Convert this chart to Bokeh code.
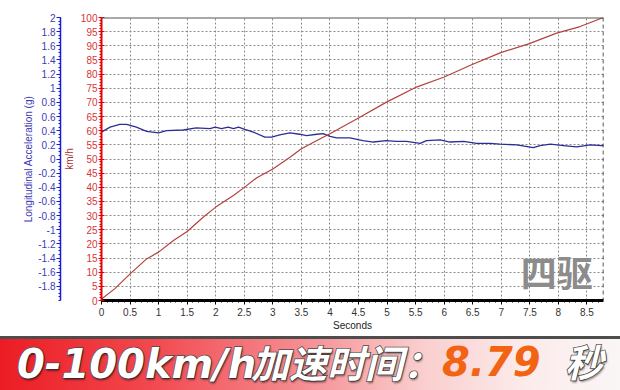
from bokeh.plotting import figure
from bokeh.models import Range1d, LinearAxis, FixedTicker, CustomJSTickFormatter, Span, Label, Div
from bokeh.layouts import column
from bokeh.embed import file_html
from bokeh.resources import INLINE

# ---------------- data ----------------
time_acc = [0, 0.15, 0.32, 0.44, 0.61, 0.79, 1.0, 1.14, 1.43, 1.66, 1.9, 1.99, 2.1, 2.22, 2.31,
            2.4, 2.51, 2.66, 2.86, 2.98, 3.12, 3.30, 3.47, 3.59, 3.77, 3.88, 4.0, 4.12, 4.35,
            4.58, 4.76, 4.99, 5.16, 5.34, 5.58, 5.69, 5.93, 6.1, 6.34, 6.57, 6.8, 6.98, 7.27,
            7.56, 7.68, 7.86, 8.09, 8.32, 8.56, 8.76, 8.79]
acc_g = [0.38, 0.45, 0.49, 0.49, 0.45, 0.39, 0.37, 0.40, 0.41, 0.44, 0.43, 0.45, 0.43, 0.45, 0.43,
         0.45, 0.42, 0.38, 0.31, 0.31, 0.34, 0.37, 0.35, 0.33, 0.35, 0.36, 0.32, 0.30, 0.30,
         0.26, 0.24, 0.26, 0.25, 0.25, 0.22, 0.26, 0.27, 0.24, 0.25, 0.22, 0.22, 0.21, 0.20,
         0.16, 0.19, 0.21, 0.19, 0.17, 0.20, 0.19, 0.19]

time_speed = [0, 0.23, 0.51, 0.79, 1.0, 1.26, 1.5, 1.78, 2.0, 2.31, 2.49, 2.72, 3.0, 3.3, 3.5,
              3.88, 4.0, 4.5, 4.99, 5.49, 5.99, 6.48, 6.98, 7.48, 7.97, 8.38, 8.79]
speed_kmh = [0.5, 4.1, 9.6, 14.7, 17.1, 21.2, 24.4, 29.4, 33.0, 37.1, 39.8, 43.4, 46.5, 50.6, 53.6,
             57.7, 58.9, 64.5, 70.1, 75.2, 78.9, 83.3, 87.5, 90.7, 94.5, 96.8, 100]

x_ticks = [0, 0.5, 1, 1.5, 2, 2.5, 3, 3.5, 4, 4.5, 5, 5.5, 6, 6.5, 7, 7.5, 8, 8.5]
speed_ticks = [0, 5, 10, 15, 20, 25, 30, 35, 40, 45, 50, 55, 60, 65, 70, 75, 80, 85, 90, 95, 100]
acc_ticks = [2, 1.8, 1.6, 1.4, 1.2, 1, 0.8, 0.6, 0.4, 0.2, 0, -0.2, -0.4, -0.6, -0.8, -1, -1.2,
             -1.4, -1.6, -1.8]

accel_time = 8.79
x_title = "Seconds"
speed_title = "km/h"
acc_title = "Longitudinal Acceleration (g)"
banner_head = "0-100km/h"
banner_cn = "加速时间："
banner_unit = "秒"
watermark = "四驱"

LABEL_FONT = "Liberation Sans"
fmt_code = "return String(parseFloat(tick.toFixed(2)))"

# ---------------- main chart ----------------
p = figure(width=620, height=336, x_range=Range1d(0, accel_time), y_range=Range1d(0, 100),
           output_backend="svg", toolbar_location=None,
           min_border_left=101, min_border_right=17, min_border_top=17, min_border_bottom=36)
p.extra_y_ranges = {"acc": Range1d(-2, 2)}
p.outline_line_color = None
p.background_fill_color = "white"
p.border_fill_color = "white"

p.xgrid.ticker = FixedTicker(ticks=x_ticks)
p.ygrid.ticker = FixedTicker(ticks=speed_ticks)
for g in (p.xgrid[0], p.ygrid[0]):
    g.grid_line_color = "#8a8a8a"
    g.grid_line_dash = "2 2"
    g.grid_line_width = 1

# x axis
xa = p.xaxis[0]
xa.ticker = FixedTicker(ticks=x_ticks, minor_ticks=[i / 10 for i in range(0, 88)])
xa.formatter = CustomJSTickFormatter(code=fmt_code)
xa.axis_line_color = "black"
xa.axis_line_width = 3
xa.major_tick_line_color = "black"
xa.minor_tick_line_color = "black"
xa.major_tick_in = 0
xa.major_tick_out = 4
xa.minor_tick_in = 0
xa.minor_tick_out = 2
xa.major_label_standoff = 3
xa.major_label_text_font = LABEL_FONT
xa.major_label_text_font_size = "10px"
xa.major_label_text_color = "#333333"
xa.axis_label = x_title
xa.axis_label_standoff = 1
xa.axis_label_text_font = LABEL_FONT
xa.axis_label_text_font_size = "10px"
xa.axis_label_text_font_style = "normal"
xa.axis_label_text_color = "#222222"

# speed axis (inner left)
ya = p.yaxis[0]
ya.ticker = FixedTicker(ticks=speed_ticks, minor_ticks=list(range(0, 101)))
ya.axis_line_color = "#e60000"
ya.axis_line_width = 2
ya.major_tick_line_color = "#e60000"
ya.minor_tick_line_color = "#e60000"
ya.major_tick_in = 3
ya.major_tick_out = 3
ya.minor_tick_in = 0
ya.minor_tick_out = 2
ya.major_label_standoff = 1
ya.major_label_text_font = LABEL_FONT
ya.major_label_text_font_size = "10px"
ya.major_label_text_color = "#d83434"
ya.axis_label = speed_title
ya.axis_label_standoff = 3
ya.axis_label_text_font = LABEL_FONT
ya.axis_label_text_font_size = "10px"
ya.axis_label_text_font_style = "normal"
ya.axis_label_text_color = "#a83232"

# spacer between the two left axes
spacer = LinearAxis(y_range_name="acc", ticker=FixedTicker(ticks=[]), axis_line_color=None,
                    major_tick_line_color=None, minor_tick_line_color=None,
                    major_tick_in=0, major_tick_out=7, minor_tick_in=0, minor_tick_out=0,
                    major_label_standoff=0, major_label_text_font_size="0px")
p.add_layout(spacer, "left")

# acceleration axis (outer left)
aa = LinearAxis(y_range_name="acc",
                ticker=FixedTicker(ticks=acc_ticks, minor_ticks=[round(-2 + 0.05 * i, 2) for i in range(81)]),
                formatter=CustomJSTickFormatter(code=fmt_code))
aa.axis_line_color = "#1a1ad8"
aa.axis_line_width = 1.5
aa.major_tick_line_color = "#1a1ad8"
aa.minor_tick_line_color = "#1a1ad8"
aa.major_tick_in = 0
aa.major_tick_out = 4
aa.minor_tick_in = 0
aa.minor_tick_out = 2
aa.major_label_standoff = 1
aa.major_label_text_font = LABEL_FONT
aa.major_label_text_font_size = "10px"
aa.major_label_text_color = "#3c3cb4"
aa.axis_label = acc_title
aa.axis_label_standoff = 1
aa.axis_label_text_font = LABEL_FONT
aa.axis_label_text_font_size = "10px"
aa.axis_label_text_font_style = "normal"
aa.axis_label_text_color = "#3c3cb4"
p.add_layout(aa, "left")

# curves
p.line(time_acc, acc_g, y_range_name="acc", line_color="#2d2d96", line_width=1.3)
p.line(time_speed, speed_kmh, line_color="#b4413c", line_width=1.2)

# frame edges
p.add_layout(Span(location=100, dimension="width", line_color="#555555", line_width=2))
p.add_layout(Span(location=accel_time, dimension="height", line_color="#222222",
                  line_dash="4 3", line_width=1.5))

# watermark
p.add_layout(Label(x=7.97, y=10.5, text=watermark, text_align="center", text_baseline="middle",
                   text_font="Noto Sans CJK SC", text_font_style="bold", text_font_size="36px",
                   text_color="#8c8c8c"))

# ---------------- banner ----------------
stroke = ("-webkit-text-stroke:1.5px #4a4a4a;paint-order:stroke fill;"
          "text-shadow:1px 2px 2px rgba(0,0,0,0.45);")
common = "position:absolute;margin:0;padding:0;white-space:nowrap;line-height:1;font-weight:bold;font-style:italic;"
banner_html = (
    '<div style="position:relative;width:620px;height:54px;overflow:visible;box-sizing:border-box;'
    'border-top:3px solid #4d4d4d;'
    'background:linear-gradient(to right, rgb(236,28,36) 0px, rgb(241,72,78) 150px, '
    'rgb(245,140,145) 300px, rgb(250,205,205) 420px, rgb(252,234,234) 520px, rgb(250,246,246) 620px);">'
    f'<span style="{common}left:17px;top:5px;font-family:\'DejaVu Sans\';font-size:40px;color:#ffffff;{stroke}">{banner_head}</span>'
    f'<span style="{common}left:251px;top:4px;font-family:\'Noto Sans CJK SC\';font-size:38px;color:#ffffff;{stroke}">{banner_cn}</span>'
    f'<span style="{common}left:442px;top:3px;font-family:\'DejaVu Sans\';font-size:40px;color:#f26414;">{accel_time}</span>'
    f'<span style="{common}left:565px;top:3px;font-family:\'Noto Sans CJK SC\';font-size:38px;color:#ffffff;{stroke}">{banner_unit}</span>'
    '</div>'
)
banner = Div(text=banner_html, width=620, height=54, margin=(0, 0, 0, 0),
             styles={"overflow": "visible"})

layout = column(p, banner, spacing=0)
open("out.html", "w").write(file_html(layout, INLINE))
